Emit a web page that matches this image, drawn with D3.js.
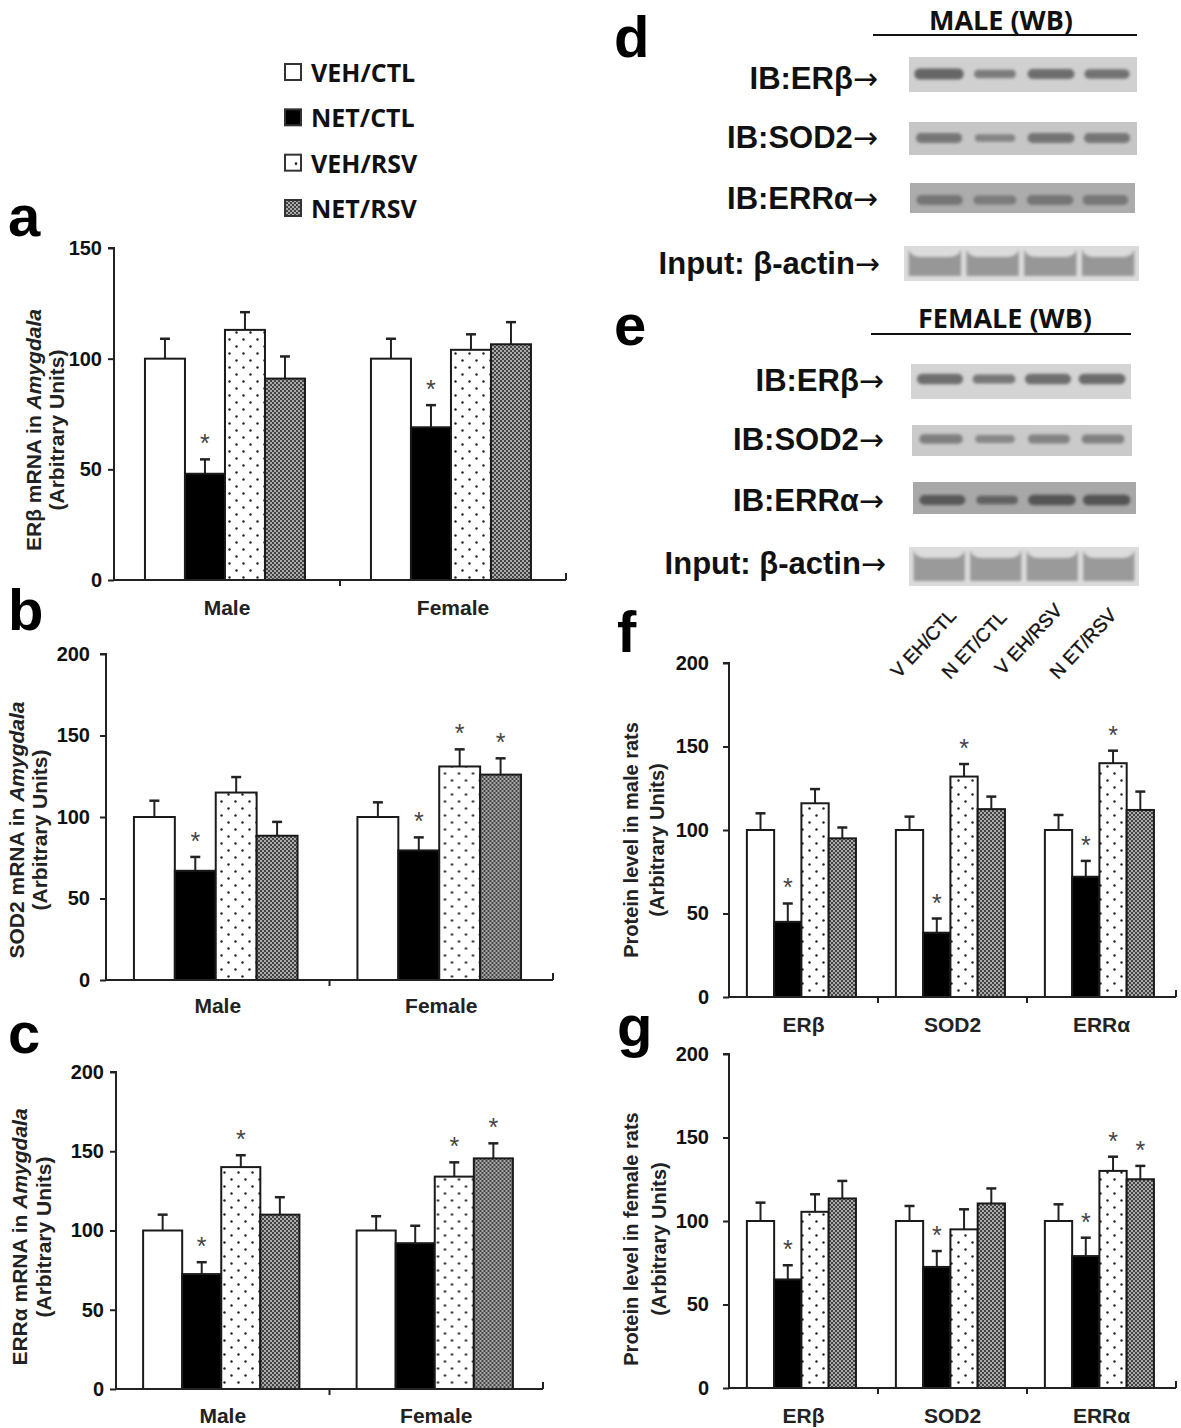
<!DOCTYPE html>
<html><head><meta charset="utf-8">
<script src="https://cdn.jsdelivr.net/npm/d3@7"></script>
<style>body{margin:0;background:#fff}svg{display:block}</style>
</head><body>
<svg id="fig" width="1181" height="1428"></svg>
<script>
// ---------------- DATA ----------------
const series = ["VEH/CTL", "NET/CTL", "VEH/RSV", "NET/RSV"];
const sexes = ["Male", "Female"];
const proteins = ["ERβ", "SOD2", "ERRα"];
const ticks150 = [0, 50, 100, 150];
const ticks200 = [0, 50, 100, 150, 200];

// a: ERβ mRNA
const aMale = [100, 48, 113, 91],   aMaleErr = [9, 6.5, 8, 10],   aMaleStar = [0, 1, 0, 0];
const aFemale = [100, 69, 104, 106.5], aFemaleErr = [9, 10, 7, 10], aFemaleStar = [0, 1, 0, 0];
// b: SOD2 mRNA
const bMale = [100, 67, 115, 88.5], bMaleErr = [10, 8.5, 9.5, 8.5], bMaleStar = [0, 1, 0, 0];
const bFemale = [100, 79.5, 131, 126], bFemaleErr = [9, 8, 10.5, 10], bFemaleStar = [0, 1, 1, 1];
// c: ERRα mRNA
const cMale = [100, 72.5, 140, 110], cMaleErr = [10, 7.5, 7.5, 11], cMaleStar = [0, 1, 1, 0];
const cFemale = [100, 92, 134, 145.5], cFemaleErr = [9, 11, 9, 9.5], cFemaleStar = [0, 0, 1, 1];
// f: protein, male rats
const fERb = [100, 45, 116, 95],    fERbErr = [10, 11, 8.5, 6.5],  fERbStar = [0, 1, 0, 0];
const fSOD2 = [100, 38.5, 132, 112.5], fSOD2Err = [8, 8.5, 7.5, 7.5], fSOD2Star = [0, 1, 1, 0];
const fERRa = [100, 72, 140, 112],  fERRaErr = [9, 9.5, 7.5, 11],  fERRaStar = [0, 1, 1, 0];
// g: protein, female rats
const gERb = [100, 65, 105.5, 113.5], gERbErr = [11, 8.5, 10.5, 10.5], gERbStar = [0, 1, 0, 0];
const gSOD2 = [100, 72.5, 95, 110.5], gSOD2Err = [9, 9.5, 12, 9],     gSOD2Star = [0, 1, 0, 0];
const gERRa = [100, 79, 130, 125],    gERRaErr = [10, 11, 8.5, 8],     gERRaStar = [0, 1, 1, 1];

// Western blot band intensities (lanes in series order)
const blotRowsLabels = ["IB:ERβ", "IB:SOD2", "IB:ERRα", "Input: β-actin"];
const maleBlotERb = [1.0, 0.55, 0.85, 0.75];
const maleBlotSOD2 = [0.8, 0.45, 0.85, 0.8];
const maleBlotERRa = [0.85, 0.65, 0.85, 0.8];
const maleBlotActin = [1, 1, 1, 1];
const femaleBlotERb = [0.9, 0.7, 0.9, 0.95];
const femaleBlotSOD2 = [0.75, 0.5, 0.65, 0.7];
const femaleBlotERRa = [0.85, 0.6, 0.95, 0.95];
const femaleBlotActin = [1, 1, 1, 1];

// ---------------- SETUP ----------------
const svg = d3.select("#fig");
const FONT = "'Liberation Sans', Arial, sans-serif";
const LFONT = "'Open Sans', 'Liberation Sans', sans-serif";
const defs = svg.append("defs");

const dots = defs.append("pattern").attr("id", "dots").attr("patternUnits", "userSpaceOnUse")
  .attr("width", 14).attr("height", 14);
dots.append("rect").attr("width", 14).attr("height", 14).attr("fill", "#fff");
dots.append("circle").attr("cx", 3.5).attr("cy", 3.5).attr("r", 1.2).attr("fill", "#222");
dots.append("circle").attr("cx", 10.5).attr("cy", 10.5).attr("r", 1.2).attr("fill", "#222");

const checker = defs.append("pattern").attr("id", "checker").attr("patternUnits", "userSpaceOnUse")
  .attr("width", 4).attr("height", 4);
checker.append("rect").attr("width", 4).attr("height", 4).attr("fill", "#aaaaaa");
checker.append("rect").attr("width", 2).attr("height", 2).attr("fill", "#444");
checker.append("rect").attr("x", 2).attr("y", 2).attr("width", 2).attr("height", 2).attr("fill", "#444");

const blur = defs.append("filter").attr("id", "blur").attr("x", "-20%").attr("y", "-50%").attr("width", "140%").attr("height", "200%");
blur.append("feGaussianBlur").attr("stdDeviation", 1.6);
const blurSoft = defs.append("filter").attr("id", "blurSoft");
blurSoft.append("feGaussianBlur").attr("stdDeviation", 0.7);

const fills = {"VEH/CTL": "#fff", "NET/CTL": "#000", "VEH/RSV": "url(#dots)", "NET/RSV": "url(#checker)"};

// ---------------- PANEL DRAW ----------------
function drawPanel(cfg) {
  const g = svg.append("g");
  const y = d3.scaleLinear().domain([0, cfg.yMax]).range([cfg.y0, cfg.yTop]);
  const x0 = d3.scaleBand().domain(cfg.categories).range([cfg.left, cfg.right]);
  const bw = x0.bandwidth();
  const x1 = d3.scaleBand().domain(series)
    .range([bw * cfg.offFrac, bw * cfg.offFrac + 4 * bw * cfg.barFrac]);

  // y axis
  const ax = g.append("g").attr("transform", `translate(${cfg.left},0)`)
    .call(d3.axisLeft(y).tickValues(cfg.ticks).tickSize(6).tickPadding(cfg.tickPad));
  ax.select(".domain").attr("stroke", "#222").attr("stroke-width", 2).attr("d", `M-6,${cfg.yTop}H0V${cfg.y0}`);
  ax.selectAll(".tick line").attr("stroke", "#222").attr("stroke-width", 2);
  ax.selectAll(".tick text").attr("font-family", FONT).attr("font-weight", "bold")
    .attr("font-size", cfg.tickFont).attr("fill", "#111");

  // data rows
  cfg.categories.forEach((cat, ci) => {
    const vals = cfg.values[ci], errs = cfg.errors[ci], stars = cfg.stars[ci];
    const gg = g.append("g").attr("transform", `translate(${x0(cat)},0)`);
    series.forEach((s, si) => {
      const bx = x1(s), w = x1.bandwidth();
      const top = y(vals[si]), etop = y(vals[si] + errs[si]);
      gg.append("line").attr("x1", bx + w / 2).attr("x2", bx + w / 2).attr("y1", top).attr("y2", etop)
        .attr("stroke", "#222").attr("stroke-width", 2);
      gg.append("line").attr("x1", bx + w / 2 - 5).attr("x2", bx + w / 2 + 5).attr("y1", etop).attr("y2", etop)
        .attr("stroke", "#222").attr("stroke-width", 2.5);
      gg.append("rect").attr("x", bx).attr("y", top).attr("width", w).attr("height", cfg.y0 - top)
        .attr("fill", fills[s]).attr("stroke", "#1a1a1a").attr("stroke-width", 2);
      if (stars[si]) {
        gg.append("text").attr("x", bx + w / 2).attr("y", etop - 7).attr("text-anchor", "middle")
          .attr("font-family", FONT).attr("font-size", 25).attr("fill", "#444").text("*");
      }
    });
    g.append("text").attr("x", x0(cat) + bw / 2).attr("y", cfg.catY).attr("text-anchor", "middle")
      .attr("dominant-baseline", "central").attr("font-family", FONT).attr("font-weight", "bold")
      .attr("font-size", cfg.catFont).attr("fill", "#222").text(cat);
  });

  // x axis line with ticks
  g.append("line").attr("x1", cfg.left).attr("x2", cfg.right).attr("y1", cfg.y0).attr("y2", cfg.y0)
    .attr("stroke", "#222").attr("stroke-width", 2);
  cfg.categories.forEach((cat, ci) => {
    if (ci > 0) {
      g.append("line").attr("x1", x0(cat)).attr("x2", x0(cat)).attr("y1", cfg.y0).attr("y2", cfg.y0 + 6)
        .attr("stroke", "#222").attr("stroke-width", 2);
    }
  });
  g.append("line").attr("x1", cfg.right).attr("x2", cfg.right).attr("y1", cfg.y0).attr("y2", cfg.y0 - 7)
    .attr("stroke", "#222").attr("stroke-width", 2);

  // y title (two rotated lines)
  cfg.titleLines.forEach((ln, i) => {
    const t = g.append("text").attr("transform", `translate(${cfg.titleX[i]},${cfg.titleCY}) rotate(-90)`)
      .attr("text-anchor", "middle").attr("dominant-baseline", "central")
      .attr("font-family", FONT).attr("font-weight", "bold").attr("font-size", cfg.titleFont)
      .attr("fill", "#222");
    ln.forEach(part => {
      t.append("tspan").attr("font-style", part.it ? "italic" : "normal").text(part.t);
    });
  });

  // panel letter
  svg.append("text").attr("x", cfg.letterX).attr("y", cfg.letterY).attr("font-family", FONT)
    .attr("font-weight", "bold").attr("font-size", cfg.letterFont).attr("fill", "#000").text(cfg.letter);
}

const amyg = (name) => [[{t: name + " mRNA in "}, {t: "Amygdala", it: true}], [{t: "(Arbitrary Units)"}]];

drawPanel({letter: "a", letterX: 8, letterY: 236, letterFont: 58,
  left: 114, right: 566, y0: 580, yTop: 248, yMax: 150, ticks: ticks150, tickPad: 6, tickFont: 20,
  categories: sexes, values: [aMale, aFemale], errors: [aMaleErr, aFemaleErr], stars: [aMaleStar, aFemaleStar],
  offFrac: 0.137, barFrac: 0.177, catY: 607, catFont: 21,
  titleLines: amyg("ERβ"), titleX: [33, 56], titleCY: 430, titleFont: 21});

drawPanel({letter: "b", letterX: 8, letterY: 630, letterFont: 58,
  left: 106, right: 553, y0: 980, yTop: 654, yMax: 200, ticks: ticks200, tickPad: 10, tickFont: 20,
  categories: sexes, values: [bMale, bFemale], errors: [bMaleErr, bFemaleErr], stars: [bMaleStar, bFemaleStar],
  offFrac: 0.125, barFrac: 0.183, catY: 1005, catFont: 21,
  titleLines: amyg("SOD2"), titleX: [16, 39], titleCY: 830, titleFont: 21});

drawPanel({letter: "c", letterX: 8, letterY: 1053, letterFont: 58,
  left: 116, right: 543, y0: 1389, yTop: 1072, yMax: 200, ticks: ticks200, tickPad: 6, tickFont: 20,
  categories: sexes, values: [cMale, cFemale], errors: [cMaleErr, cFemaleErr], stars: [cMaleStar, cFemaleStar],
  offFrac: 0.127, barFrac: 0.183, catY: 1415, catFont: 21,
  titleLines: amyg("ERRα"), titleX: [19, 43], titleCY: 1237, titleFont: 21});

drawPanel({letter: "f", letterX: 617, letterY: 652, letterFont: 58,
  left: 729, right: 1176, y0: 997, yTop: 663, yMax: 200, ticks: ticks200, tickPad: 14, tickFont: 20,
  categories: proteins, values: [fERb, fSOD2, fERRa], errors: [fERbErr, fSOD2Err, fERRaErr], stars: [fERbStar, fSOD2Star, fERRaStar],
  offFrac: 0.12, barFrac: 0.183, catY: 1024, catFont: 21,
  titleLines: [[{t: "Protein level in male rats"}], [{t: "(Arbitrary Units)"}]], titleX: [631, 657], titleCY: 840, titleFont: 20});

drawPanel({letter: "g", letterX: 617, letterY: 1046, letterFont: 58,
  left: 729, right: 1176, y0: 1388, yTop: 1054, yMax: 200, ticks: ticks200, tickPad: 14, tickFont: 20,
  categories: proteins, values: [gERb, gSOD2, gERRa], errors: [gERbErr, gSOD2Err, gERRaErr], stars: [gERbStar, gSOD2Star, gERRaStar],
  offFrac: 0.12, barFrac: 0.183, catY: 1415, catFont: 21,
  titleLines: [[{t: "Protein level in female rats"}], [{t: "(Arbitrary Units)"}]], titleX: [631, 659], titleCY: 1239, titleFont: 20});

// rotated series labels above panel f
const rotPos = [[899, 679], [950, 680], [1003, 676], [1058, 680]];
const rotText = ["V EH/CTL", "N ET/CTL", "V EH/RSV", "N ET/RSV"];
series.forEach((s, i) => {
  svg.append("text").attr("transform", `translate(${rotPos[i][0]},${rotPos[i][1]}) rotate(-47)`)
    .attr("font-family", FONT).attr("font-size", 19).attr("fill", "#111").attr("stroke", "#111")
    .attr("stroke-width", 0.4).text(rotText[i]);
});

// ---------------- LEGEND ----------------
const legY = d3.scalePoint().domain(series).range([72, 208]);
series.forEach(s => {
  const cy = legY(s);
  svg.append("rect").attr("x", 285).attr("y", cy - 8).attr("width", 16).attr("height", 16)
    .attr("fill", s === "VEH/RSV" ? "#fff" : fills[s]).attr("stroke", "#333").attr("stroke-width", 2);
  if (s === "VEH/RSV") svg.append("circle").attr("cx", 296).attr("cy", cy + 1).attr("r", 1.3).attr("fill", "#222");
  svg.append("text").attr("x", 311).attr("y", cy).attr("dominant-baseline", "central")
    .attr("font-family", LFONT).attr("font-weight", "bold").attr("font-size", 25).attr("fill", "#111").text(s);
});

// ---------------- WESTERN BLOTS ----------------
function drawBlot(cfg) {
  svg.append("text").attr("x", cfg.titleX).attr("y", cfg.titleY).attr("text-anchor", "middle")
    .attr("dominant-baseline", "central").attr("font-family", LFONT).attr("font-weight", "bold")
    .attr("font-size", 27).attr("fill", "#111").text(cfg.title);
  svg.append("line").attr("x1", cfg.lineX0).attr("x2", cfg.lineX1).attr("y1", cfg.lineY).attr("y2", cfg.lineY)
    .attr("stroke", "#111").attr("stroke-width", 2);
  svg.append("text").attr("x", cfg.letterX).attr("y", cfg.letterY).attr("font-family", FONT)
    .attr("font-weight", "bold").attr("font-size", 58).attr("fill", "#000").text(cfg.letter);

  cfg.rows.forEach((r, ri) => {
    const lt = svg.append("text").attr("x", r.labelX).attr("y", r.labelY).attr("text-anchor", "end")
      .attr("dominant-baseline", "central").attr("font-family", FONT).attr("font-weight", "bold")
      .attr("font-size", 31).attr("fill", "#111");
    lt.append("tspan").text(blotRowsLabels[ri]);
    lt.append("tspan").attr("font-family", "'DejaVu Sans', sans-serif").attr("font-weight", "normal")
      .attr("font-size", 30).text("→");
    const gb = svg.append("g");
    gb.append("rect").attr("x", r.x0).attr("y", r.y0).attr("width", r.x1 - r.x0).attr("height", r.y1 - r.y0)
      .attr("fill", r.bg).attr("filter", "url(#blurSoft)");
    const lane = d3.scaleBand().domain(series).range([r.x0 + 2, r.x1 - 2]).paddingInner(0.06).paddingOuter(0.03);
    series.forEach((s, si) => {
      const v = r.vals[si];
      const lx = lane(s), lw = lane.bandwidth();
      if (r.actin) {
        const t = r.y0 + 3, b = r.y1 - 5, d = r.y0 + 11;
        gb.append("path")
          .attr("d", `M${lx + 1},${t} Q${lx + 3},${d} ${lx + 13},${d} L${lx + lw - 13},${d} Q${lx + lw - 3},${d} ${lx + lw - 1},${t} L${lx + lw - 1},${b} L${lx + 1},${b} Z`)
          .attr("fill", r.band).attr("filter", "url(#blur)");
      } else {
        const bwid = lw * (0.62 + 0.32 * v);
        const bh = 5 + 6 * v;
        gb.append("rect").attr("x", lx + (lw - bwid) / 2).attr("y", r.bandY - bh / 2)
          .attr("width", bwid).attr("height", bh).attr("rx", bh / 2)
          .attr("fill", r.band).attr("opacity", 0.55 + 0.45 * v).attr("filter", "url(#blur)");
      }
    });
  });
}

drawBlot({letter: "d", letterX: 614, letterY: 57, title: "MALE (WB)", titleX: 1001, titleY: 19,
  lineX0: 873, lineX1: 1137, lineY: 35,
  rows: [
    {labelX: 878, labelY: 78, x0: 909, x1: 1137, y0: 57, y1: 92, bg: "#d0d0d0", band: "#666", bandY: 74, vals: maleBlotERb},
    {labelX: 878, labelY: 137, x0: 909, x1: 1137, y0: 122, y1: 155, bg: "#c6c6c6", band: "#6e6e6e", bandY: 138, vals: maleBlotSOD2},
    {labelX: 878, labelY: 198, x0: 910, x1: 1135, y0: 183, y1: 213, bg: "#acacac", band: "#727272", bandY: 200, vals: maleBlotERRa},
    {labelX: 880, labelY: 263, x0: 904, x1: 1139, y0: 246, y1: 281, bg: "#dcdcdc", band: "#979797", actin: true, vals: maleBlotActin}
  ]});

drawBlot({letter: "e", letterX: 614, letterY: 345, title: "FEMALE (WB)", titleX: 1005, titleY: 317,
  lineX0: 871, lineX1: 1131, lineY: 334,
  rows: [
    {labelX: 884, labelY: 380, x0: 911, x1: 1131, y0: 364, y1: 399, bg: "#d4d4d4", band: "#6a6a6a", bandY: 379, vals: femaleBlotERb},
    {labelX: 884, labelY: 439, x0: 912, x1: 1132, y0: 425, y1: 456, bg: "#cacaca", band: "#767676", bandY: 439, vals: femaleBlotSOD2},
    {labelX: 884, labelY: 500, x0: 913, x1: 1136, y0: 482, y1: 514, bg: "#a8a8a8", band: "#525252", bandY: 500, vals: femaleBlotERRa},
    {labelX: 886, labelY: 563, x0: 909, x1: 1139, y0: 547, y1: 586, bg: "#dcdcdc", band: "#9a9a9a", actin: true, vals: femaleBlotActin}
  ]});
</script>
</body></html>
